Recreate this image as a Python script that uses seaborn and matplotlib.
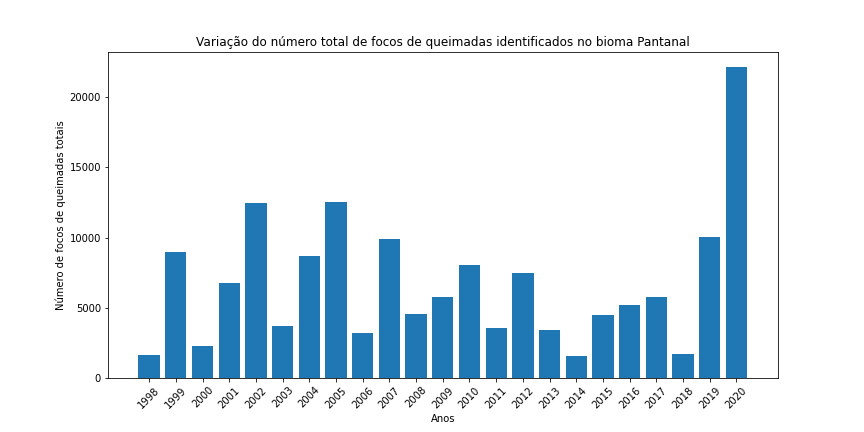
import matplotlib
matplotlib.use("Agg")
import matplotlib.pyplot as plt
import seaborn as sns
import pandas as pd

anos = ["1998", "1999", "2000", "2001", "2002", "2003", "2004", "2005", "2006", "2007",
        "2008", "2009", "2010", "2011", "2012", "2013", "2014", "2015", "2016", "2017",
        "2018", "2019", "2020"]
focos = [1660, 8980, 2300, 6780, 12460, 3720, 8700, 12540, 3220, 9900,
         4570, 5780, 8060, 3580, 7490, 3440, 1590, 4500, 5210, 5780,
         1730, 10050, 22130]

df = pd.DataFrame({"Anos": anos, "Focos": focos})

fig = plt.figure(figsize=(12, 6), dpi=72)
ax = fig.add_axes([0.125, 0.125, 0.775, 0.755])
sns.barplot(data=df, x="Anos", y="Focos", color="#1f77b4", saturation=1,
            width=0.8, ax=ax, errorbar=None)
ax.set_xlim(-1.54, 23.54)
ax.set_ylim(0, max(focos) * 1.05)
ax.set_title("Variação do número total de focos de queimadas identificados no bioma Pantanal", fontsize=12)
ax.set_xlabel("Anos", fontsize=10)
ax.set_ylabel("Número de focos de queimadas totais", fontsize=10)
ax.tick_params(axis="x", rotation=45, labelsize=10)
ax.tick_params(axis="y", labelsize=10)
fig.savefig("out.png", dpi=72)
